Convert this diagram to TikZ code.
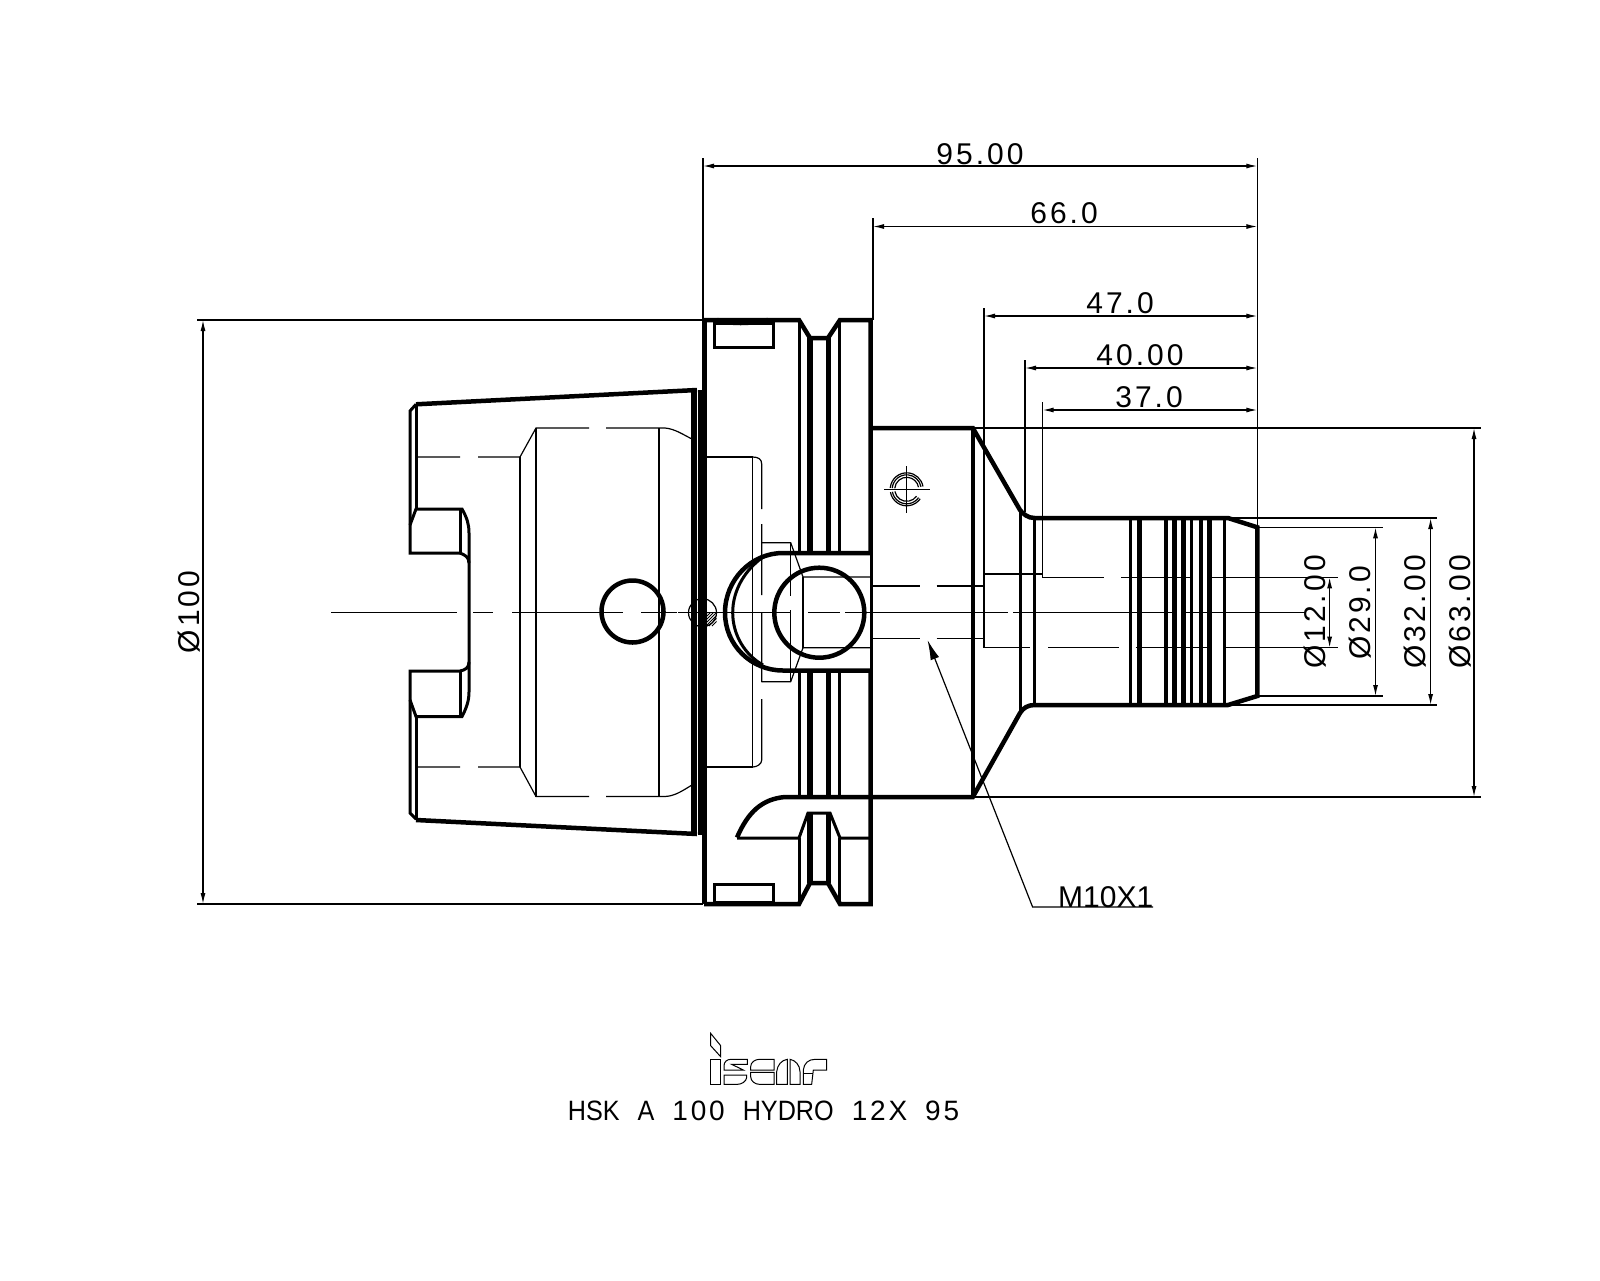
\documentclass[tikz,border=0pt]{standalone}
\usepackage{fontspec}
\setmainfont{Liberation Sans}
\newfontfamily\cadfont[LetterSpace=10]{Liberation Sans}
\newfontfamily\letterfont[FakeStretch=0.9]{Liberation Sans}
\usetikzlibrary{arrows.meta}
\tikzset{
  outline/.style={line width=4.5pt,line join=miter},
  edge/.style={line width=3pt},
  hidden/.style={line width=1.2pt},
  dimline/.style={line width=1.2pt,{Latex[length=11pt,width=5pt]}-{Latex[length=11pt,width=5pt]}},
  extline/.style={line width=1.2pt},
  dimtext/.style={inner sep=0pt,font=\cadfont\fontsize{30}{32}\selectfont},
}
\begin{document}
\begin{tikzpicture}[x=1pt,y=-1pt]
  \useasboundingbox (0,0) rectangle (1600,1280);

  % Reference points of the dimensions
  \coordinate (flangeL) at (703,320);
  \coordinate (flangeLb) at (703,904);
  \coordinate (flangeR) at (873,320);
  \coordinate (tipT) at (1257.3,527.3);
  \coordinate (bodyT) at (972.8,428);
  \coordinate (bodyB) at (972.8,797);
  \coordinate (shankT) at (1228,518);
  \coordinate (shankB) at (1228,705);
  \coordinate (tipB) at (1257.3,696);

  % Taper shank
  \draw[outline] (416,404.3) -- (697,390);
  \draw[outline] (416,820) -- (697,834);
  \draw[edge] (416,404.3) -- (410,411) -- (410,553) -- (460,553);
  \draw[edge] (410,525) -- (416,509) -- (462,509) .. controls (467,518) and (469,524) .. (469,533)
    -- (469,692) .. controls (469,700) and (467,707) .. (462,716.5) -- (416,716.5) -- (410,700);
  \draw[edge] (460,553) .. controls (465,555) and (469,557) .. (469,563);
  \draw[edge] (469,662) .. controls (469,668) and (465,670) .. (460,671) -- (410,671) -- (410,813) -- (416,819);
  \draw[edge] (416,404.3) -- (416,509);
  \draw[edge] (416,716.5) -- (416,820);
  \draw[edge] (460,509) -- (460,553);
  \draw[edge] (460,671) -- (460,716.5);

  % Bore, hidden lines
  \draw[hidden] (416,457) -- (460,457) (478,457) -- (520,457) -- (536,428) -- (589,428) (606,428) -- (665,428) .. controls (675,429) and (682,434) .. (692,439);
  \draw[hidden] (416,767) -- (460,767) (478,767) -- (520,767) -- (536,796.5) -- (589,796.5) (606,796.5) -- (665,796.5) .. controls (675,796) and (682,791) .. (692,785);
  \draw[hidden] (520,457) -- (520,767);
  \draw[hidden] (536,428) -- (536,796.5);
  \draw[hidden] (659,428) -- (659,796.5);
  \draw[hidden] (706,457) -- (752.7,457) (706,767) -- (752.7,767);
  \draw[hidden] (752.7,457) -- (752.7,767);
  \draw[hidden] (752.7,457) .. controls (758,457) and (761.7,459) .. (761.7,464) -- (761.7,509) (761.7,524) -- (761.7,595) (761.7,613) -- (761.7,682) (761.7,699) -- (761.7,760) .. controls (761.7,764) and (757,767) .. (752.7,767);
  \draw[hidden] (761.7,542.7) -- (790.7,542.7) -- (803,577) -- (872,577);
  \draw[hidden] (761.7,681.7) -- (790.7,681.7) -- (803,647.7) -- (872,647.7);
  \draw[hidden] (803,577) -- (803,647.7);
  \draw[hidden] (790.7,542.7) -- (790.7,596) (790.7,610) -- (790.7,681.7);

  % Cross holes
  \draw[outline] (632.5,611.5) circle[radius=31pt];
  \draw[outline] (819.3,612.7) circle[radius=45pt];

  % Flange
  \draw[line width=5pt] (704,904) -- (704,320);
  \draw[line width=8pt] (702,390) -- (702,835);
  \draw[edge] (692,392) -- (692,834) (695.5,391) -- (695.5,834);
  \draw[outline] (704,320) -- (799,320) -- (810,338) -- (828,338) -- (840,320) -- (870.5,320) -- (870.5,553);
  \draw[outline] (870.5,670.5) -- (870.5,904) -- (840,904) -- (828,883) -- (810,883) -- (799,904) -- (704,904);
  \draw[edge] (871.5,553) -- (871.5,670.5);
  \draw[outline] (717,320) .. controls (730,324) and (750,324) .. (768,320);
  \foreach \xa in {799.3,839.3} {
    \draw[edge] (\xa,320) -- (\xa,553) (\xa,670.5) -- (\xa,797) (\xa,838) -- (\xa,904);
  }
  \foreach \xa in {810,828.3} {
    \draw[line width=5.5pt] (\xa,338) -- (\xa,553) (\xa,670.5) -- (\xa,797) (\xa,813) -- (\xa,883);
  }
  \draw[edge] (714,347) rectangle (773,323);
  \draw[edge] (714,902) rectangle (773,884);

  % Notch with the circle cut
  \draw[outline] (870.5,553) -- (783,553) .. controls (751,553) and (725,580) .. (725,612.7) .. controls (725,645) and (751,670.5) .. (783,670.5) -- (870.5,670.5);
  \draw[edge] (763,557) .. controls (745,570) and (732.7,590) .. (732.7,612.7) .. controls (732.7,635) and (745,655) .. (763,665);
  \draw[outline] (870.5,797) -- (785,797) .. controls (762,799) and (748,812) .. (737,837.5);
  \draw[edge] (737,838) -- (799,838) -- (808,813) -- (830,813) -- (840,838) -- (870,838);

  % Hatched thread mark
  \draw[hidden] (702.5,612.7) circle[radius=14pt];
  \begin{scope}
    \clip (702.5,612.7) -- (716.5,612.7) -- (716.5,626.7) -- (702.5,626.7) -- cycle;
    \foreach \k in {0,3,...,24} {
      \draw[line width=.8pt] (702+\k,612) -- (702+\k-14,626);
    }
  \end{scope}

  % Body and cone
  \draw[outline] (872,428) -- (972.8,428) -- (1020,510) .. controls (1023,514) and (1028,518) .. (1034.4,518) -- (1228,518) -- (1257.3,527.3) -- (1257.3,696) -- (1228,705) -- (1034.4,705) .. controls (1028,705) and (1023,708) .. (1020,713) -- (972.8,797) -- (872,797);
  \draw[outline,line width=3.5pt] (972.8,428) -- (972.8,797);
  \draw[edge] (1020,510) -- (1020,713);
  \draw[line width=3.5pt] (1034.4,518) -- (1034.4,705);
  \foreach \xa/\wa in {1130.7/3.5,1139.3/4.5,1166/3.5,1174.3/4.5,1183.3/5,1191.7/3.5,1201/3.5,1209.3/4.5,1224.3/3} {
    \draw[line width=\wa pt] (\xa,518) -- (\xa,705);
  }

  % Screw mark on the body
  \coordinate (screw) at (906.7,489.3);
  \draw[hidden] (884,489.3) -- (930,489.3) (906.7,466) -- (906.7,512.7);
  \foreach \ra in {12,14.5,16.5} {
    \draw[hidden] ([shift=(175:\ra pt)]screw) arc[start angle=175,end angle=10,radius=\ra pt];
    \draw[hidden] ([shift=(190:\ra pt)]screw) arc[start angle=190,end angle=325,radius=\ra pt];
  }

  % Hidden lines of the bore in the shank
  \draw[hidden] (872,586) -- (919.5,586) (936.7,586) -- (984,586);
  \draw[hidden] (872,638.3) -- (919.5,638.3) (936.7,638.3) -- (984,638.3);
  \draw[hidden] (984,574) -- (1042.6,574) -- (1042.6,577.3) -- (1104,577.3) (1121,577.3) -- (1192,577.3) (1208,577.3) -- (1338,577.3);
  \draw[hidden] (984,647.7) -- (1030,647.7) (1048,647.7) -- (1119,647.7) (1135.7,647.7) -- (1208,647.7) (1224,647.7) -- (1338,647.7);

  % Centre line
  \draw[extline] (331,612.7) -- (457,612.7) (473,612.7) -- (493,612.7) (512,612.7) -- (623,612.7) (641,612.7) -- (677,612.7) (678,612.7) -- (790,612.7) (808,612.7) -- (840,612.7) (845,612.7) -- (1008,612.7) (1013,612.7) -- (1176,612.7) (1181,612.7) -- (1305,612.7);

  % Extension lines
  \draw[extline] (flangeL) -- (703,158);
  \draw[extline] (flangeR) -- (873,218);
  \draw[extline] (984,647.7) -- (984,308);
  \draw[extline] (1025,512) -- (1025,360);
  \draw[extline] (1042.6,574) -- (1042.6,402);
  \draw[extline] (tipT) -- (1257.3,158);
  \draw[extline] (flangeL) -- (197,320);
  \draw[extline] (flangeLb) -- (197,904);
  \draw[extline] (bodyT) -- (1481,428);
  \draw[extline] (bodyB) -- (1481,797);
  \draw[extline] (shankT) -- (1437,518);
  \draw[extline] (shankB) -- (1437,705);
  \draw[extline] (tipT) -- (1383,527.3);
  \draw[extline] (tipB) -- (1383,696);

  % Horizontal dimensions
  \draw[dimline] (703,166) -- (1257.3,166);
  \draw[dimline] (873,226.5) -- (1257.3,226.5);
  \draw[dimline] (984,316) -- (1257.3,316);
  \draw[dimline] (1025,368) -- (1257.3,368);
  \draw[dimline] (1042.6,410) -- (1257.3,410);
  \node[dimtext] (dimA) at (980,154) {95.00};
  \node[dimtext] (dimB) at (1064,213) {66.0};
  \node[dimtext] (dimC) at (1120,303) {47.0};
  \node[dimtext] (dimD) at (1140,355) {40.00};
  \node[dimtext] (dimE) at (1149,397) {37.0};

  % Vertical dimensions
  \draw[dimline] (203,320) -- (203,904);
  \draw[dimline] (1474,428) -- (1474,797);
  \draw[dimline] (1430.6,518) -- (1430.6,705);
  \draw[dimline] (1375.5,527.3) -- (1375.5,696);
  \draw[dimline] (1329.6,577.3) -- (1329.6,647.7);
  \node[dimtext,rotate=90] (dimF) at (189,612) {Ø100};
  \node[dimtext,rotate=90] (dimG) at (1460,612) {Ø63.00};
  \node[dimtext,rotate=90] (dimH) at (1415.5,612) {Ø32.00};
  \node[dimtext,rotate=90] (dimI) at (1360.5,613) {Ø29.0};
  \node[dimtext,rotate=90] (dimJ) at (1315,612) {Ø12.00};

  % Thread leader
  \node[inner sep=0pt,anchor=base west,font=\fontsize{30}{32}\selectfont] (thread) at (1058,907) {M10X1};
  \coordinate (threadTip) at (927.5,640);
  \draw[extline,{Latex[length=20pt,width=9pt]}-] (threadTip) -- (1032.6,907) -- (1153,907);

  % Logo
  \begin{scope}[shift={(700,1025)},x=0.3333pt,y=-0.3333pt,line width=1pt]
    \draw (32,25) -- (62,62) -- (62,95) -- (32,62) -- cycle;
    \draw (32,103) -- (60,103) -- (60,178) -- (32,178) -- cycle;
    \draw (72,135) -- (72,122) .. controls (72,110) and (82,103) .. (92,103) -- (142,103) -- (142,118) -- (95,118) -- (130,135) -- cycle;
    \draw (72,150) -- (140,150) -- (140,158) .. controls (138,170) and (125,178) .. (112,178) -- (72,178) -- cycle;
    \draw (152,135) -- (152,125) .. controls (152,112) and (165,103) .. (178,103) -- (222,103) -- (222,135) -- cycle;
    \draw (152,142) -- (222,142) -- (222,178) -- (178,178) .. controls (165,178) and (152,168) .. (152,155) -- cycle;
    \draw (230,178) -- (230,140) .. controls (232,120) and (245,105) .. (262,103) -- (262,178) -- cycle;
    \draw (270,103) .. controls (285,105) and (300,120) .. (300,140) -- (300,178) -- (270,178) -- cycle;
    \draw (310,178) -- (310,135) .. controls (312,115) and (325,103) .. (345,103) -- (380,103) -- (380,135) -- (340,135) -- (335,178) -- cycle;
    \draw (310,145) -- (338,145);
  \end{scope}

  % Designation
  \node[inner sep=0pt,font=\fontsize{28}{30}\selectfont] (title) at (763.5,1111) {{\letterfont HSK}\hspace{18pt}{\letterfont A}\hspace{18pt}{\cadfont 100}\hspace{18pt}{\letterfont HYDRO}\hspace{18pt}{\cadfont 12X}\hspace{18pt}{\cadfont 95}};
\end{tikzpicture}
\end{document}
